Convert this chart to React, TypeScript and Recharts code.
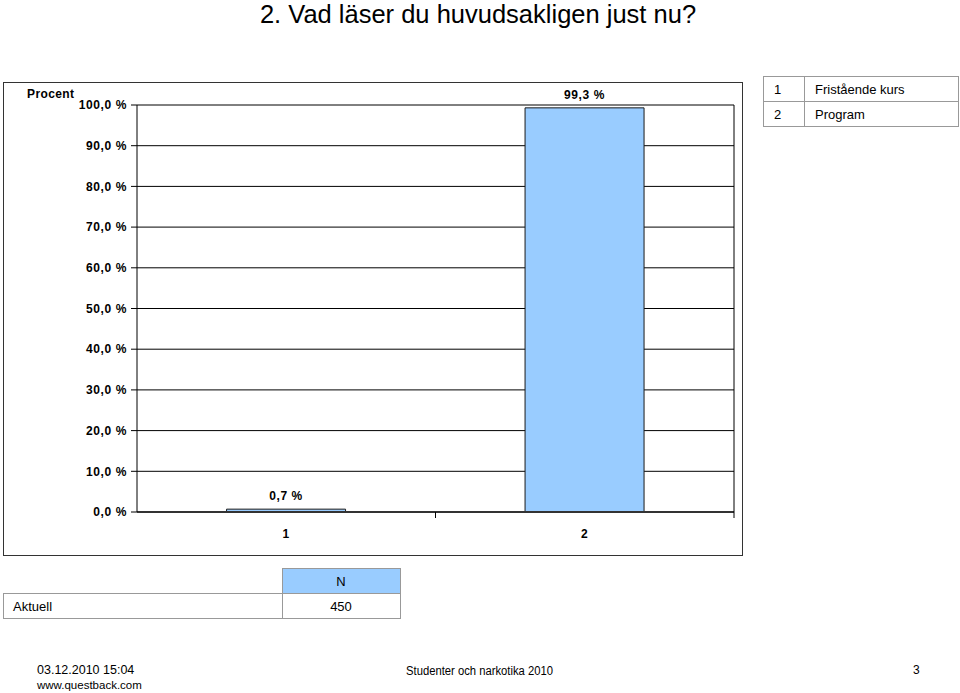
import React from "react";
import { BarChart, Bar, XAxis, YAxis, CartesianGrid, LabelList } from "recharts";

const categories = ["1", "2"];
const percentValues = [0.7, 99.3];
const yTicks = [0, 10, 20, 30, 40, 50, 60, 70, 80, 90, 100];
const legendCodes = ["1", "2"];
const legendNames = ["Fristående kurs", "Program"];
const tableRowLabel = "Aktuell";
const tableHeader = "N";
const tableCount = 450;

const data = categories.map((c, i) => ({ cat: c, value: percentValues[i] }));

const fmt = (v: number) => v.toFixed(1).replace(".", ",") + " %";

const AR = "'Liberation Sans', Arial, sans-serif";

const tickStyle = { fontFamily: AR, fontSize: 12, fontWeight: 700, fill: "#000", letterSpacing: 0.6 };

// Category tick: label at the band centre plus a boundary tick mark at the band's right edge
const CategoryTick = (props: any) => {
  const { x, y, payload } = props;
  const half = payload && payload.offset ? payload.offset : 0;
  return (
    <g>
      <line x1={x + half} x2={x + half} y1={y - 17} y2={y - 11} stroke="#000" strokeWidth={1} />
      <text x={x} y={y} dy="0.71em" textAnchor="middle" style={tickStyle}>
        {payload.value}
      </text>
    </g>
  );
};

export default function App() {
  return (
    <div style={{ position: "absolute", left: 0, top: 0, width: 960, height: 693, background: "#fff", overflow: "hidden" }}>
      <div style={{ position: "absolute", left: 0, top: -1, width: 956, textAlign: "center", fontFamily: AR, fontSize: 25.5, lineHeight: "30px", color: "#000" }}>
        2. Vad läser du huvudsakligen just nu?
      </div>

      <div style={{ position: "absolute", left: 3, top: 82, width: 738, height: 472, border: "1.5px solid #333" }} />

      <div style={{ position: "absolute", left: 27, top: 87, fontFamily: AR, fontSize: 12, fontWeight: 700, letterSpacing: 0.4 }}>Procent</div>

      <div style={{ position: "absolute", left: 0, top: 0 }}>
        <BarChart
          width={960}
          height={693}
          data={data}
          margin={{ top: 105, right: 225, bottom: 151, left: 77 }}
          barCategoryGap="30%"
        >
          <CartesianGrid vertical={false} stroke="#000" strokeWidth={1} />
          <XAxis
            dataKey="cat"
            tickLine={false}
            axisLine={{ stroke: "#333", strokeWidth: 2 }}
            tick={<CategoryTick />}
            tickMargin={11}
            height={30}
          />
          <YAxis
            domain={[0, 100]}
            ticks={yTicks}
            tickFormatter={fmt}
            tick={tickStyle}
            tickLine={{ stroke: "#000" }}
            tickSize={6}
            tickMargin={4}
            axisLine={{ stroke: "#000" }}
            width={60}
            interval={0}
          />
          <YAxis
            yAxisId="r"
            orientation="right"
            domain={[0, 100]}
            tick={false}
            tickLine={false}
            axisLine={{ stroke: "#000" }}
            width={1}
          />
          <Bar dataKey="value" fill="#99CCFF" stroke="#1a1a1a" strokeWidth={1} isAnimationActive={false}>
            <LabelList dataKey="value" position="top" offset={9} formatter={(v: any) => fmt(Number(v))} style={tickStyle} />
          </Bar>
        </BarChart>
      </div>

      <table
        style={{
          position: "absolute",
          left: 763,
          top: 76,
          width: 196,
          borderCollapse: "collapse",
          fontFamily: AR,
          fontSize: 13,
          color: "#000",
        }}
      >
        <tbody>
          {legendCodes.map((c, i) => (
            <tr key={c} style={{ height: 25 }}>
              <td style={{ border: "1px solid #999", width: 30, padding: "0 0 0 10px" }}>{c}</td>
              <td style={{ border: "1px solid #999", padding: "0 0 0 10px" }}>{legendNames[i]}</td>
            </tr>
          ))}
        </tbody>
      </table>

      <table
        style={{
          position: "absolute",
          left: 3,
          top: 568,
          borderCollapse: "collapse",
          fontFamily: AR,
          fontSize: 13,
          color: "#000",
        }}
      >
        <tbody>
          <tr style={{ height: 25 }}>
            <td style={{ width: 278, padding: 0 }} />
            <td style={{ width: 117, padding: 0, textAlign: "center", background: "#99CCFF", border: "1px solid #999" }}>{tableHeader}</td>
          </tr>
          <tr style={{ height: 25 }}>
            <td style={{ border: "1px solid #999", padding: "0 0 0 9px" }}>{tableRowLabel}</td>
            <td style={{ border: "1px solid #999", padding: 0, textAlign: "center" }}>{tableCount}</td>
          </tr>
        </tbody>
      </table>

      <div style={{ position: "absolute", left: 37, top: 663, fontFamily: AR, fontSize: 12.5, lineHeight: "15px" }}>
        <div>03.12.2010 15:04</div>
        <div style={{ fontSize: 11.5 }}>www.questback.com</div>
      </div>
      <div style={{ position: "absolute", left: 406, top: 664, fontFamily: AR, fontSize: 12.5, transformOrigin: "0 0", transform: "scaleX(0.9)", whiteSpace: "nowrap" }}>
        Studenter och narkotika 2010
      </div>
      <div style={{ position: "absolute", left: 913, top: 663, fontFamily: AR, fontSize: 12 }}>3</div>
    </div>
  );
}
